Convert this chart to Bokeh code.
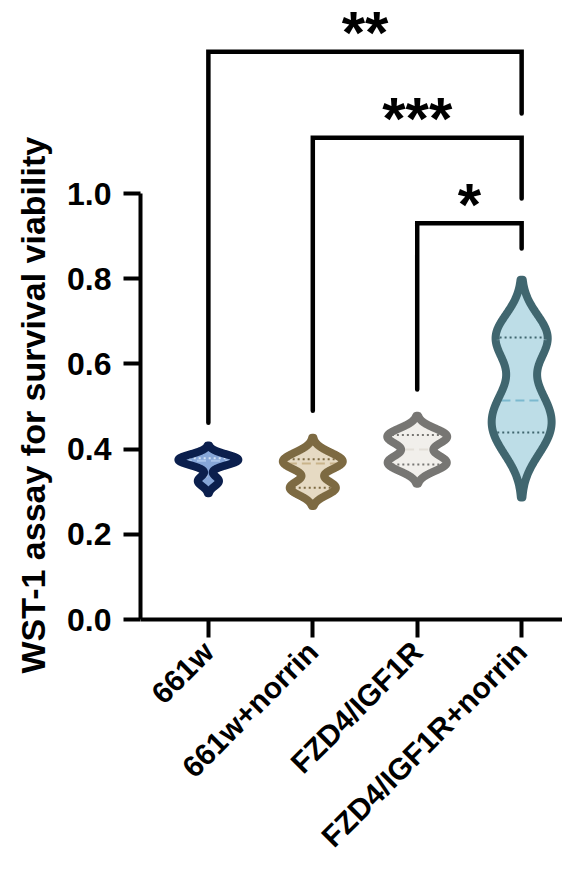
import math
import numpy as np
from bokeh.plotting import figure
from bokeh.models import Range1d, FixedTicker, ColumnDataSource, Title
from bokeh.core.properties import value
from bokeh.embed import file_html
from bokeh.resources import INLINE

# ---------------- data ----------------
categories = ["661w", "661w+norrin", "FZD4/IGF1R", "FZD4/IGF1R+norrin"]
vals_661w = [0.325, 0.370, 0.375, 0.380]
vals_661w_norrin = [0.307, 0.311, 0.366, 0.366, 0.386]
vals_fzd4_igf1r = [0.360, 0.376, 0.422, 0.437]
vals_fzd4_igf1r_norrin = [0.415, 0.463, 0.514, 0.655, 0.669]
groups = [vals_661w, vals_661w_norrin, vals_fzd4_igf1r, vals_fzd4_igf1r_norrin]

y_ticks = [0.0, 0.2, 0.4, 0.6, 0.8, 1.0]
y_tick_labels = ["0.0", "0.2", "0.4", "0.6", "0.8", "1.0"]
y_title = "WST-1 assay for survival viability"

# significance brackets
comp_left = [0, 1, 2]
comp_right = [3, 3, 3]
comp_top = [1.333, 1.131, 0.930]
comp_left_end = [0.462, 0.490, 0.540]
comp_right_end = [1.188, 0.988, 0.871]
comp_stars = ["**", "***", "*"]

# ---------------- style ----------------
outline_colors = ["#0b1f4d", "#7d6a42", "#777673", "#40666f"]
fill_colors = ["#86a6d8", "#e6dac3", "#f1efeb", "#bddde7"]
quart_colors = ["#d6e4f6", "#7d6a42", "#777673", "#40666f"]
median_colors = ["#a9c4ea", "#c9b48b", "#e3dfd8", "#7cb9cf"]
HALF_W = 0.287
BW_FACTOR = 0.47
TAIL = 2.4
OUTLINE_W = 8
PX_PER_X = 104.67
PX_PER_Y = 426.0
W, H = 562, 858
LEFT = 139          # y-axis position (px)
ZERO_Y = 619        # x-axis position (px)
TITLE_START = 673   # where the y title begins (px from top)
X_START = -0.65
FONT = "Liberation Sans"


def gp_quantile(vals, p):
    s = sorted(vals)
    n = len(s)
    r = p * (n + 1)
    lo = int(math.floor(r))
    frac = r - lo
    if lo < 1:
        return s[0]
    if lo >= n:
        return s[-1]
    return s[lo - 1] + frac * (s[lo] - s[lo - 1])


def kde_profile(vals, n=400):
    v = np.asarray(vals, dtype=float)
    h = BW_FACTOR * v.std(ddof=1)
    grid = np.linspace(v.min() - TAIL * h, v.max() + TAIL * h, n)
    dens = np.exp(-0.5 * ((grid[:, None] - v[None, :]) / h) ** 2).sum(axis=1)
    return grid, dens / dens.max() * HALF_W


vx, vy = [], []
qx0, qx1, qy, qc = [], [], [], []
mx0, mx1, my, mc = [], [], [], []
inset = (OUTLINE_W / 2) / PX_PER_X
for i, g in enumerate(groups):
    grid, w = kde_profile(g)
    vx.append(np.concatenate([i - w, (i + w)[::-1]]).tolist())
    vy.append(np.concatenate([grid, grid[::-1]]).tolist())
    for p_ in (0.25, 0.75):
        q = gp_quantile(g, p_)
        hw = max(float(np.interp(q, grid, w)) - inset, 0)
        qx0.append(i - hw); qx1.append(i + hw); qy.append(q); qc.append(quart_colors[i])
    m = gp_quantile(g, 0.5)
    hw = max(float(np.interp(m, grid, w)) - inset, 0)
    mx0.append(i - hw); mx1.append(i + hw); my.append(m); mc.append(median_colors[i])

violin_src = ColumnDataSource(dict(xs=vx, ys=vy, fill=fill_colors, line=outline_colors))

p = figure(width=W, height=H,
           x_range=Range1d(X_START, X_START + (W - LEFT) / PX_PER_X),
           y_range=Range1d((ZERO_Y - H) / PX_PER_Y, ZERO_Y / PX_PER_Y),
           output_backend="svg", toolbar_location=None,
           min_border_left=LEFT, min_border_right=0, min_border_top=0,
           min_border_bottom=0)
p.outline_line_color = None
p.xgrid.visible = False
p.ygrid.visible = False
p.background_fill_color = "white"
p.border_fill_color = "white"

# violins: fill, quartile lines, outline
p.patches("xs", "ys", source=violin_src, fill_color="fill", line_color=None)
p.segment(x0=qx0, y0=qy, x1=qx1, y1=qy, line_color=qc, line_width=2, line_dash="2 3")
p.segment(x0=mx0, y0=my, x1=mx1, y1=my, line_color=mc, line_width=2, line_dash="9 5")
p.patches("xs", "ys", source=violin_src, fill_color=None, line_color="line",
          line_width=OUTLINE_W, line_join="round")

# significance brackets
bx = [[l, l, r, r] for l, r in zip(comp_left, comp_right)]
by = [[le, t, t, re] for le, t, re in zip(comp_left_end, comp_top, comp_right_end)]
p.multi_line(bx, by, line_color="black", line_width=4.5, line_join="miter", line_cap="round")
p.text(x=[(l + r) / 2 for l, r in zip(comp_left, comp_right)], y=comp_top, text=comp_stars,
       text_font=value(FONT), text_font_style="bold", text_font_size="60px",
       text_align="center", text_baseline="alphabetic", y_offset=-19, text_color="black")

# axes
for ax in (p.xaxis[0], p.yaxis[0]):
    ax.axis_line_width = 4
    ax.axis_line_color = "black"
    ax.major_tick_line_width = 4
    ax.major_tick_line_color = "black"
    ax.major_tick_in = 0
    ax.minor_tick_line_color = None
    ax.major_label_text_font = FONT
    ax.major_label_text_font_style = "bold"
    ax.major_label_text_color = "black"

p.yaxis.ticker = FixedTicker(ticks=y_ticks)
p.yaxis.major_label_overrides = {t: l for t, l in zip(y_ticks, y_tick_labels)}
p.yaxis.bounds = (0, 1.0)
p.yaxis.major_tick_out = 17
p.yaxis.major_label_standoff = 12
p.yaxis.major_label_text_font_size = "32px"

p.xaxis.fixed_location = 0
p.xaxis.ticker = FixedTicker(ticks=list(range(len(categories))))
p.xaxis.major_label_overrides = {i: c for i, c in enumerate(categories)}
p.xaxis.major_tick_out = 18
p.xaxis.major_label_standoff = 9
p.xaxis.major_label_orientation = math.pi / 4
p.xaxis.major_label_text_font_size = "30px"

# y title, starting at the same height as in the reference
p.add_layout(Title(text=y_title, align="left", offset=H - TITLE_START,
                   vertical_align="middle", standoff=24,
                   text_font=FONT, text_font_style="bold", text_font_size="34px",
                   text_color="black"), "left")

open("out.html", "w").write(file_html(p, INLINE))
